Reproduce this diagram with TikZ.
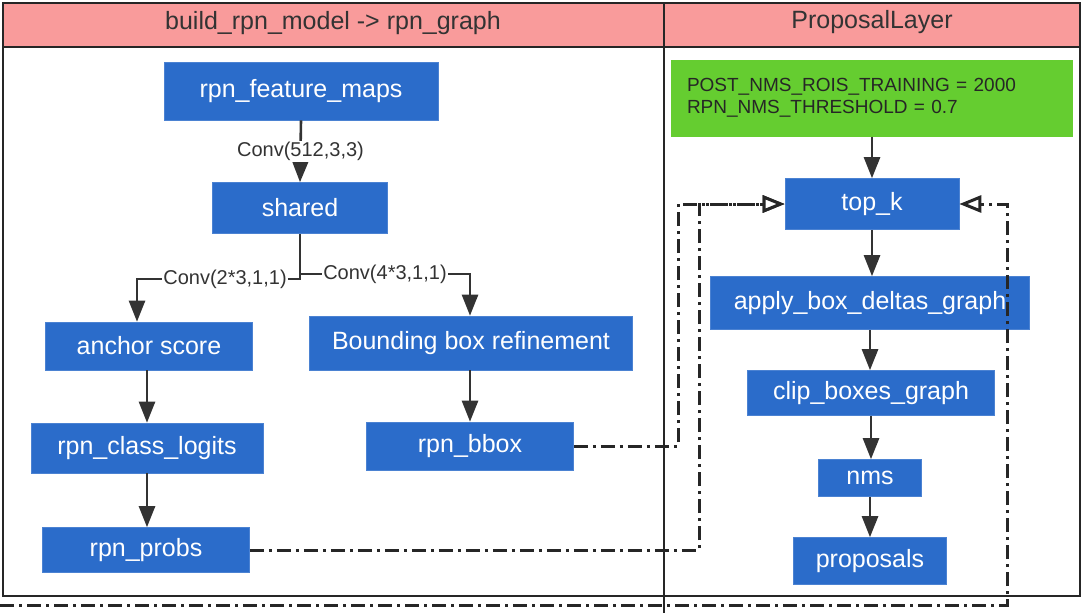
\documentclass[tikz,border=0pt]{standalone}
\usepackage{fontspec}
\setmainfont{Liberation Sans}
\usetikzlibrary{arrows.meta}
\definecolor{boxblue}{RGB}{43,108,202}
\definecolor{hdrpink}{RGB}{249,155,155}
\definecolor{cfggreen}{RGB}{101,205,48}
\definecolor{ink}{RGB}{51,51,51}
\begin{document}
\begin{tikzpicture}[x=1pt,y=-1pt,
  blk/.style={fill=boxblue, draw=boxblue!85!white, line width=0.6pt, text=white, inner sep=0pt,
    font=\fontsize{25}{30}\selectfont},
  hdr/.style={text=ink, inner sep=0pt, font=\fontsize{25}{30}\selectfont},
  lbl/.style={fill=white, text=ink, inner sep=1pt, font=\fontsize{20}{22}\selectfont},
  conn/.style={draw=ink, line width=2.6pt, -{Triangle[length=21pt,width=16pt]}},
  dd/.style={draw=black!85, line width=3pt, dash pattern=on 14pt off 5pt on 3pt off 5pt,
    -{Triangle[open,length=22pt,width=17pt,fill=white]}},
  frame/.style={draw=black!85, line width=2.2pt}]
\useasboundingbox (0,0) rectangle (1084,613);
\fill[white] (0,0) rectangle (1084,613);
% headers
\fill[hdrpink] (3,3) rectangle (664,47);
\fill[hdrpink] (664,3) rectangle (1080,47);
\node[hdr] (h1) at (333,23) {build\_rpn\_model -> rpn\_graph};
\node[hdr] (h2) at (872,22) {ProposalLayer};
% left panel nodes
\node[blk, minimum width=274pt, minimum height=58pt] (fm) at (301,91) {rpn\_feature\_maps};
\node[blk, minimum width=175pt, minimum height=51pt] (sh) at (300,208) {shared};
\node[blk, minimum width=207pt, minimum height=48pt] (as) at (149,346) {anchor score};
\node[blk, minimum width=323pt, minimum height=54pt] (bb) at (471,343) {Bounding box refinement};
\node[blk, minimum width=232pt, minimum height=50pt] (cl) at (147,448) {rpn\_class\_logits};
\node[blk, minimum width=207pt, minimum height=48pt] (rb) at (470,446) {rpn\_bbox};
\node[blk, minimum width=207pt, minimum height=45pt] (pr) at (146,550) {rpn\_probs};
% right panel nodes
\node[fill=cfggreen, text=black!85, minimum width=402pt, minimum height=77pt, text width=370pt,
  align=left, inner xsep=16pt, inner ysep=0pt, font=\fontsize{19}{22}\selectfont] (cfg) at (872,98)
  {POST\_NMS\_ROIS\_TRAINING = 2000\\RPN\_NMS\_THRESHOLD = 0.7};
\node[blk, minimum width=174pt, minimum height=51pt] (tk) at (872,204) {top\_k};
\node[blk, minimum width=319pt, minimum height=53pt] (ab) at (870,303) {apply\_box\_deltas\_graph};
\node[blk, minimum width=247pt, minimum height=45pt] (cb) at (871,393) {clip\_boxes\_graph};
\node[blk, minimum width=103pt, minimum height=37pt] (nm) at (870,478) {nms};
\node[blk, minimum width=153pt, minimum height=47pt] (po) at (870,561) {proposals};
% frame
\draw[frame] (3,3) rectangle (1080,596);
\draw[frame] (3,47) -- (1080,47);
\draw[frame] (664,3) -- (664,613);
% solid connectors
\draw[conn] (fm.south) -- node[lbl, pos=0.5] {Conv(512,3,3)} (sh.north);
\coordinate (jl) at (300,279);
\coordinate (jr) at (300,274);
\draw[conn] (sh.south) -- (jl) -| node[lbl, pos=0.23] {Conv(2*3,1,1)} ([xshift=-12pt]as.north);
\draw[conn] (jr) -| node[lbl, pos=0.25] {Conv(4*3,1,1)} ([xshift=-1pt]bb.north);
\draw[conn] ([xshift=-2pt]as.south) -- ([xshift=0pt]cl.north);
\draw[conn] (cl.south) -- (cl.south |- pr.north);
\draw[conn] ([xshift=-1pt]bb.south) -- (rb.north);
\draw[conn] (cfg.south) -- (tk.north);
\draw[conn] (tk.south) -- (tk.south |- ab.north);
\draw[conn] (ab.south) -- (ab.south |- cb.north);
\draw[conn] (cb.south) -- (cb.south |- nm.north);
\draw[conn] (nm.south) -- (po.north);
% dash-dot connectors
\coordinate (cr1) at (678,446);
\coordinate (cr2) at (699,550);
\draw[dd] (rb.east) -- (cr1) |- (tk.west);
\draw[dd] (pr.east) -- (cr2) |- (tk.west);
\coordinate (fe) at (0,605);
\coordinate (cr3) at (1007,605);
\draw[dd] (fe) -- (cr3) |- (tk.east);
\end{tikzpicture}
\end{document}
